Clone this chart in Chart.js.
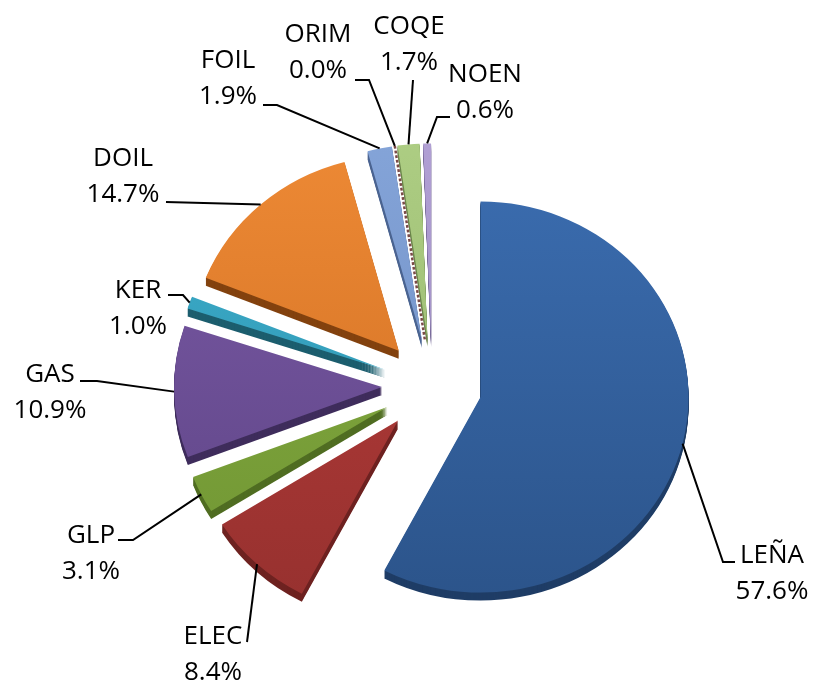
<!DOCTYPE html>
<html>
<head>
<meta charset="utf-8">
<script src="https://cdn.jsdelivr.net/npm/chart.js@4/dist/chart.umd.min.js"></script>
<style>
html,body{margin:0;padding:0;background:#ffffff;}
#wrap{width:814px;height:683px;position:relative;}
canvas{display:block;}
</style>
</head>
<body>
<div id="wrap"><canvas id="c" width="814" height="683"></canvas></div>
<script>
// ---- data ----
const categories = ['LEÑA', 'ELEC', 'GLP', 'GAS', 'KER', 'DOIL', 'FOIL', 'ORIM', 'COQE', 'NOEN'];
const shares = [57.6, 8.4, 3.1, 10.9, 1.0, 14.7, 1.9, 0.0, 1.7, 0.6];

// ---- style ----
const TOP_COLORS    = ['#3b6db0', '#b83c3a', '#86ad42', '#7b5aa6', '#3fb1d0', '#ef8b36', '#86a6da', '#c98b86', '#afcf85', '#b3a2d6'];
const BOTTOM_COLORS = ['#2b5389', '#94302e', '#6f9432', '#5d4485', '#2b8fa9', '#cf6e22', '#6d8cc2', '#a66c68', '#95b56b', '#9887bd'];
const SIDE_COLORS   = ['#1f3d66', '#6e2220', '#506d22', '#3f2d5c', '#1c5e6e', '#83420f', '#4b6491', '#7a4a47', '#6b854b', '#6f6191'];
const EXPLODE = 50;     // px each slice is pulled out
const RADIUS = 208;
const TILT = 0.94;      // vertical squash for the 3-D look
const TILT_Y = 400;
const DEPTH = 8;
const FONT = '26px "Open Sans", "Liberation Sans", sans-serif';
const LINE_GAP = 36;
// label block centre x, first baseline y, leader elbow points (from slice edge to label)
const LABEL_LAYOUT = [
  {x: 772, y: 563, path: [[723, 562], [735, 562]]},
  {x: 213, y: 644, path: [[247, 642]]},
  {x: 91,  y: 543, path: [[133, 540], [118, 540]]},
  {x: 50,  y: 382, path: [[97, 381], [80, 381]]},
  {x: 138, y: 298, path: [[183, 295], [168, 295]]},
  {x: 123, y: 166, path: [[166, 202]]},
  {x: 228, y: 68,  path: [[277, 105], [263, 105]]},
  {x: 318, y: 42,  path: [[369, 80], [355, 80]]},
  {x: 409, y: 34,  path: [[413, 80]]},
  {x: 485, y: 82,  path: [[437, 117], [450, 117]]}
];

function fillFor(c) {
  const i = c.dataIndex;
  const chart = c.chart;
  if (!chart.chartArea) return TOP_COLORS[i];
  const g = chart.ctx.createLinearGradient(0, 130, 0, 620);
  g.addColorStop(0, TOP_COLORS[i]);
  g.addColorStop(1, BOTTOM_COLORS[i]);
  return g;
}

function geom(el) {
  const h = (el.startAngle + el.endAngle) / 2;
  const ax = el.x + EXPLODE * Math.cos(h);
  const ay = el.y + EXPLODE * Math.sin(h);
  return {h, ax, ay};
}
function squash(y) { return TILT_Y + (y - TILT_Y) * TILT; }

const pie3d = {
  id: 'pie3d',
  beforeDatasetsDraw(chart) {
    const ctx = chart.ctx;
    const meta = chart.getDatasetMeta(0);
    ctx.save();
    ctx.translate(0, TILT_Y);
    ctx.scale(1, TILT);
    ctx.translate(0, -TILT_Y);
    // extruded side
    for (let d = DEPTH; d >= 1; d--) {
      meta.data.forEach((el, i) => {
        if (el.endAngle - el.startAngle <= 0) return;
        const g = geom(el);
        ctx.save();
        ctx.translate(0, d / TILT);
        ctx.beginPath();
        ctx.moveTo(g.ax, g.ay);
        ctx.arc(g.ax, g.ay, el.outerRadius, el.startAngle, el.endAngle);
        ctx.closePath();
        ctx.fillStyle = SIDE_COLORS[i];
        ctx.fill();
        ctx.restore();
      });
    }
    // faces, drawn by the library's arc elements
    meta.data.forEach((el, i) => {
      const g = geom(el);
      ctx.save();
      ctx.translate(EXPLODE * Math.cos(g.h), EXPLODE * Math.sin(g.h));
      el.draw(ctx);
      ctx.restore();
      if (el.endAngle - el.startAngle <= 0) {
        // zero share: Excel draws it as a thin dashed edge
        ctx.save();
        ctx.beginPath();
        ctx.moveTo(g.ax, g.ay);
        ctx.lineTo(g.ax + el.outerRadius * Math.cos(g.h), g.ay + el.outerRadius * Math.sin(g.h));
        ctx.setLineDash([3, 2]);
        ctx.lineWidth = 2.5;
        ctx.strokeStyle = SIDE_COLORS[i];
        ctx.stroke();
        ctx.restore();
      }
    });
    ctx.restore();
    return false;
  },
  afterDraw(chart) {
    const ctx = chart.ctx;
    const meta = chart.getDatasetMeta(0);
    ctx.save();
    ctx.font = FONT;
    ctx.fillStyle = '#000';
    ctx.textAlign = 'center';
    ctx.textBaseline = 'alphabetic';
    meta.data.forEach((el, i) => {
      const g = geom(el);
      const ex = g.ax + el.outerRadius * Math.cos(g.h);
      const ey = squash(g.ay + el.outerRadius * Math.sin(g.h));
      const lay = LABEL_LAYOUT[i];
      ctx.beginPath();
      ctx.moveTo(ex, ey);
      lay.path.forEach(p => ctx.lineTo(p[0], p[1]));
      ctx.lineWidth = 2;
      ctx.strokeStyle = '#000';
      ctx.stroke();
      ctx.fillText(categories[i], lay.x, lay.y);
      ctx.fillText(shares[i].toFixed(1) + '%', lay.x, lay.y + LINE_GAP);
    });
    ctx.restore();
  }
};

new Chart(document.getElementById('c'), {
  type: 'pie',
  data: {
    labels: categories,
    datasets: [{
      data: shares,
      backgroundColor: fillFor,
      borderWidth: 0,
      offset: 0,
      hoverOffset: 0,
      radius: RADIUS,
      clip: false
    }]
  },
  options: {
    responsive: false,
    animation: false,
    events: [],
    radius: RADIUS,
    layout: {padding: {left: 50, right: 0, top: 87, bottom: 0}},
    plugins: {
      legend: {display: false},
      tooltip: {enabled: false},
      title: {display: false}
    }
  },
  plugins: [pie3d]
});
</script>
</body>
</html>
